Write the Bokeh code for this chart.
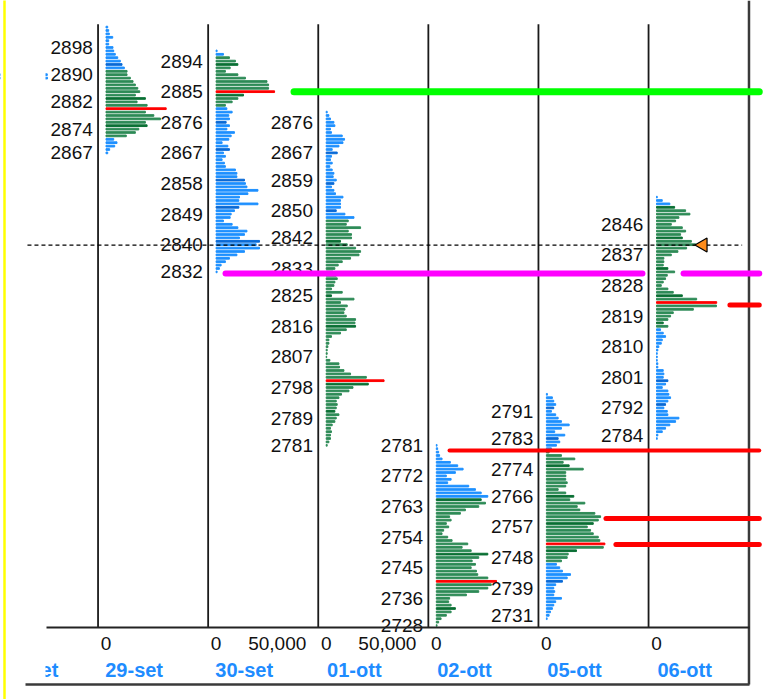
import math
from bokeh.plotting import figure
from bokeh.models import Range1d, FixedTicker, LinearAxis, ColumnDataSource, BoxAnnotation
from bokeh.core.properties import value
from bokeh.embed import file_html
from bokeh.resources import INLINE

# ---------------- data ----------------
days = ["28-set", "29-set", "30-set", "01-ott", "02-ott", "05-ott", "06-ott"]
DAY = 90.0  # width of one session column, thousands of contracts

# volume at price (thousands), one value per 1-point level, from the top price down
top_28 = 2890
vol_28 = [42.0, 42.2]
top_29 = 2904
vol_29 = [1.4, 2.2, 2.7, 5.5, 2.2, 2.2, 5.7, 6.3, 7.6, 9.6, 11.7, 13.1, 15.0, 17.2, 17.2,
          19.9, 22.1, 24.0, 26.0, 27.6, 24.0, 32.2, 25.4, 33.6, 49.2, 32.2, 39.1, 44.5,
          32.2, 33.6, 26.8, 24.0, 16.6, 6.3, 9.0, 7.1, 3.0, 1.4]
top_30 = 2897
vol_30 = [0.8, 6.0, 10.9, 15.8, 17.8, 11.5, 7.6, 17.8, 24.0, 41.6, 42.9, 42.9, 47.8, 22.4,
          17.8, 13.1, 7.6, 8.8, 13.1, 10.4, 10.9, 8.2, 10.9, 8.8, 15.0, 12.3, 10.4, 4.9,
          9.6, 10.9, 6.0, 7.6, 4.9, 6.8, 7.6, 15.8, 17.0, 17.0, 23.2, 24.0, 25.2, 34.2,
          26.0, 19.1, 18.6, 34.2, 18.6, 15.0, 12.3, 11.5, 6.0, 13.1, 17.8, 25.2, 23.2,
          19.1, 35.5, 32.8, 35.5, 23.2, 17.0, 10.9, 7.6, 4.1, 2.7, 0.8]
top_01 = 2879
vol_01 = [0.8, 2.2, 3.5, 6.3, 7.1, 3.5, 4.3, 13.1, 15.0, 13.7, 10.4, 4.9, 9.0, 4.3, 3.5,
          4.9, 3.0, 4.9, 6.3, 5.7, 8.2, 6.3, 4.3, 6.3, 7.6, 13.7, 11.7, 11.7, 11.7, 8.2,
          15.3, 22.7, 18.0, 16.4, 28.1, 18.0, 20.7, 20.7, 11.7, 17.2, 24.0, 28.1, 26.8,
          19.9, 13.1, 9.8, 7.1, 5.5, 8.2, 9.0, 7.1, 6.3, 4.3, 13.1, 4.3, 22.7, 11.7, 17.2,
          15.3, 14.5, 16.4, 24.0, 23.5, 24.0, 16.4, 11.7, 4.3, 2.2, 2.2, 1.4, 0.8, 0.8,
          0.4, 3.0, 10.4, 10.9, 14.5, 19.9, 32.8, 47.3, 34.4, 21.9, 18.6, 12.5, 10.4, 8.2,
          9.0, 8.2, 7.1, 10.4, 8.2, 7.1, 4.9, 3.5, 4.3, 3.5, 3.5, 2.2, 0.8]
top_02 = 2781
vol_02 = [0.6, 1.1, 1.9, 2.7, 4.7, 11.5, 17.5, 21.9, 15.6, 8.2, 12.1, 9.3, 26.5, 32.0,
          36.7, 42.1, 36.7, 40.2, 34.7, 23.8, 19.7, 10.9, 12.1, 8.2, 10.1, 6.0, 4.7, 9.3,
          12.9, 25.7, 21.1, 28.5, 42.1, 34.7, 29.3, 32.0, 28.5, 32.8, 33.9, 42.1, 49.2,
          44.9, 42.1, 34.7, 24.6, 10.9, 10.1, 12.1, 15.6, 12.1, 8.2, 3.9, 1.9, 0.6]
top_05 = 2796
vol_05 = [0.8, 4.9, 6.0, 7.6, 6.0, 4.1, 7.6, 9.6, 12.3, 18.6, 12.3, 6.8, 15.0, 9.6, 10.9,
          8.2, 4.1, 2.2, 12.3, 23.2, 13.7, 18.6, 30.1, 15.8, 15.8, 15.8, 17.0, 15.8, 9.6,
          15.8, 22.4, 19.1, 31.4, 25.2, 27.3, 39.6, 44.3, 42.4, 38.3, 33.4, 36.1, 38.3,
          42.4, 43.7, 47.8, 46.5, 24.6, 17.8, 17.0, 12.3, 8.2, 10.9, 13.1, 19.7, 17.0,
          13.1, 7.6, 6.0, 6.8, 6.0, 12.3, 7.6, 6.0, 4.9, 3.3, 2.2, 0.6]
top_06 = 2854
vol_06 = [0.6, 4.7, 10.9, 14.8, 23.8, 27.3, 18.3, 15.6, 12.1, 21.1, 23.8, 19.7, 21.1, 28.5,
          32.0, 24.6, 17.5, 12.1, 6.0, 6.0, 5.5, 9.3, 14.8, 8.8, 7.4, 5.5, 3.9, 9.3, 13.7,
          21.1, 32.8, 49.2, 49.0, 30.1, 13.7, 11.5, 9.3, 5.5, 9.3, 3.3, 5.5, 7.4, 4.7, 3.9,
          1.9, 1.1, 0.6, 0.6, 0.6, 1.1, 1.1, 5.5, 6.0, 5.5, 9.3, 7.4, 4.7, 9.3, 10.1, 11.5,
          9.3, 7.4, 6.0, 8.8, 9.3, 18.3, 15.6, 10.9, 7.4, 4.7, 1.1, 0.6]

va_low = [None, 2872, 2881, 2781, 2728, 2747, 2816]
va_high = [None, 2891, 2895, 2847, 2765, 2779, 2851]
poc = [None, 2880, 2885, 2800, 2741, 2752, 2823]
dark_29 = [2893, 2883, 2875]
dark_30 = [2893, 2884, 2876, 2868, 2859, 2851, 2841]
dark_01 = [2867, 2858, 2850, 2841, 2825, 2816, 2799, 2791]
dark_02 = [2765, 2749, 2733]
dark_05 = [2792, 2783, 2775, 2766, 2758, 2750, 2741]
dark_06 = [2851, 2842, 2833, 2825, 2817, 2800, 2793]

# price labels written left of each session
lab_29 = [2898, 2890, 2882, 2874, 2867]
lab_30 = [2894, 2885, 2876, 2867, 2858, 2849, 2840, 2832]
lab_01 = [2876, 2867, 2859, 2850, 2842, 2833, 2825, 2816, 2807, 2798, 2789, 2781]
lab_02 = [2781, 2772, 2763, 2754, 2745, 2736, 2728]
lab_05 = [2791, 2783, 2774, 2766, 2757, 2748, 2739, 2731]
lab_06 = [2846, 2837, 2828, 2819, 2810, 2801, 2792, 2784]

# naked levels drawn to the right
lvl_price = [2885, 2831.5, 2831.5, 2779.5, 2759.5, 2751.8, 2822.3]
lvl_day = [2, 2, 6, 4, 5, 5, 6]
lvl_from = [63.7, 7.7, 22.1, 10.8, 48.7, 56.8, 60.0]
lvl_end_day = [7, 6, 7, 7, 7, 7, 7]
lvl_end_off = [-6.0, -11.5, -6.0, -6.0, -6.0, -6.0, -6.0]
lvl_color = ["#00FF00", "#FF00FF", "#FF00FF", "#FF0000", "#FF0000", "#FF0000", "#FF0000"]
lvl_width = [7, 6, 6, 4, 5, 5, 5]

last_price = 2839.9
last_day, last_off = 6, 38.0

# x-axis ticks (volume scale of each session)
tick_day = [1, 2, 2, 3, 3, 4, 5, 6]
tick_vol = [0, 0, 50, 0, 50, 0, 0, 0]
tick_txt = ["0", "0", "50,000", "0", "50,000", "0", "0", "0"]

# ---------------- frame geometry ----------------
X_START, X_END = 3.76, 634.0
Y_BOT, Y_TOP = 2706.24, 2911.82
Y_AXIS = 2727.4
SEP_TOP = 2904.8
Y_DATE = 2718.6
Y_BORDER = 2710.65
Y_MASK = 2711.8
RIGHT_EDGE = 615.6
AXIS_LEFT = 41.4
BORDER_LEFT = 24.2
CLIP_RIGHT = 40.55
YELLOW_X = 7.03
DASH_LEFT = 25.8
SEP_OFF = -6.5
LAB_OFF = -10.8

BLUE, DBLUE = "#1E90FF", "#0A6AD6"
GREEN, DGREEN = "#2E8B57", "#0B7035"
RED = "#FF0000"

tops = [top_28, top_29, top_30, top_01, top_02, top_05, top_06]
vols = [vol_28, vol_29, vol_30, vol_01, vol_02, vol_05, vol_06]
darks = [[], dark_29, dark_30, dark_01, dark_02, dark_05, dark_06]
labs = [[], lab_29, lab_30, lab_01, lab_02, lab_05, lab_06]

bars = dict(y=[], left=[], right=[], color=[])
for d, (top, vl) in enumerate(zip(tops, vols)):
    for k, v in enumerate(vl):
        price = top - k
        if poc[d] is not None and price == poc[d]:
            c = RED
        elif va_low[d] is not None and va_low[d] <= price <= va_high[d]:
            c = DGREEN if price in darks[d] else GREEN
        else:
            c = DBLUE if price in darks[d] else BLUE
        bars["y"].append(price)
        bars["left"].append(d * DAY)
        bars["right"].append(d * DAY + v)
        bars["color"].append(c)

p = figure(width=771, height=699, x_range=Range1d(X_START, X_END),
           y_range=Range1d(Y_BOT, Y_TOP), output_backend="svg", toolbar_location=None,
           min_border=0)
p.grid.visible = False
p.outline_line_color = None
p.yaxis.visible = False
p.background_fill_color = "white"

# session separators
sep_x = [d * DAY + SEP_OFF for d in range(1, 7)]
p.segment(x0=sep_x, y0=[Y_AXIS] * 6, x1=sep_x, y1=[SEP_TOP] * 6,
          line_color="#1a1a1a", line_width=1.8)
# right border
p.segment(x0=[RIGHT_EDGE], y0=[Y_TOP], x1=[RIGHT_EDGE], y1=[Y_BORDER],
          line_color="#3a3a3a", line_width=2.5)

p.hbar(y="y", left="left", right="right", height=0.5, color="color",
       source=ColumnDataSource(bars))

# price labels
lx, ly, lt = [], [], []
for d, labels in enumerate(labs):
    for v in labels:
        lx.append(d * DAY + LAB_OFF)
        ly.append(v)
        lt.append(str(v))
p.text(x=lx, y=ly, text=lt, text_align="right", text_baseline="middle",
       text_font=value("Liberation Sans"), text_font_size="19px", text_color="#111111")

# naked levels
for pr, dd, fr, ed, eo, col, w in zip(lvl_price, lvl_day, lvl_from, lvl_end_day,
                                      lvl_end_off, lvl_color, lvl_width):
    p.line(x=[dd * DAY + fr, ed * DAY + eo], y=[pr, pr], line_color=col,
           line_width=w, line_cap="round")

# volume axis
tick_x = [d * DAY + v for d, v in zip(tick_day, tick_vol)]
ax = p.xaxis[0]
ax.fixed_location = Y_AXIS
ax.bounds = (AXIS_LEFT, RIGHT_EDGE + 0.5)
ax.ticker = FixedTicker(ticks=tick_x)
ax.major_label_overrides = {t: s for t, s in zip(tick_x, tick_txt)}
ax.major_tick_in = 0
ax.major_tick_out = 0
ax.minor_tick_in = 0
ax.minor_tick_out = 0
ax.axis_line_width = 2
ax.axis_line_color = "#222222"
ax.major_label_text_font = "Liberation Sans"
ax.major_label_text_font_size = "19px"
ax.major_label_text_color = "#111111"
ax.major_label_standoff = 9

# session date labels
date_x = [d * DAY + 23 for d in range(len(days))]
dax = LinearAxis(fixed_location=Y_DATE, ticker=FixedTicker(ticks=date_x),
                 major_label_overrides={t: s for t, s in zip(date_x, days)},
                 axis_line_color=None, major_tick_in=0, major_tick_out=0,
                 minor_tick_in=0, minor_tick_out=0,
                 major_label_text_font="Liberation Sans",
                 major_label_text_font_style="bold",
                 major_label_text_font_size="20px",
                 major_label_text_color="#1E8CFF", major_label_standoff=2)
p.add_layout(dax, "below")

# bottom border
bax = LinearAxis(fixed_location=Y_BORDER, bounds=(BORDER_LEFT, RIGHT_EDGE + 0.5),
                 ticker=FixedTicker(ticks=[]), axis_line_width=2.5,
                 axis_line_color="#3a3a3a", major_tick_in=0, major_tick_out=0,
                 minor_tick_in=0, minor_tick_out=0, major_label_text_font_size="0px")
p.add_layout(bax, "below")

# the chart area is clipped on its left side: the previous session is cut off there
p.add_layout(BoxAnnotation(left=X_START, right=CLIP_RIGHT, bottom=Y_MASK, top=Y_TOP,
                           fill_color="white", fill_alpha=1.0, line_color=None))

# window edge
p.segment(x0=[YELLOW_X], y0=[Y_BOT], x1=[YELLOW_X], y1=[Y_TOP],
          line_color="#FFFF00", line_width=2.5, level="overlay")

# last price
p.line(x=[DASH_LEFT, 7 * DAY - 20], y=[last_price, last_price], line_color="black",
       line_width=1.2, line_dash="4 3", level="overlay")
p.scatter(x=[last_day * DAY + last_off], y=[last_price], marker="triangle", size=14,
          angle=math.pi / 2, fill_color="#FF8C1A", line_color="black", line_width=1.2,
          level="overlay")

open("out.html", "w").write(file_html(p, INLINE))
